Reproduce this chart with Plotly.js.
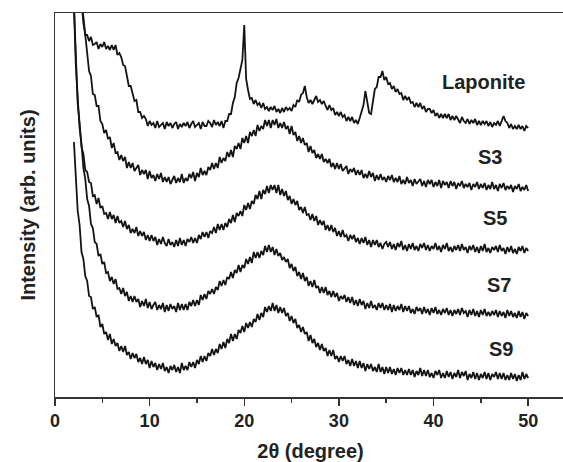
<!DOCTYPE html>
<html>
<head>
<meta charset="utf-8">
<script src="https://cdn.plot.ly/plotly-3.0.1.min.js"></script>
<style>
html,body{margin:0;padding:0;overflow:hidden;background:#fff;}
#chart{width:566px;height:462px;}
</style>
</head>
<body>
<div id="chart"></div>
<script>
// 2-theta sampling: every series is read every 0.2 degree from its start angle
const stepDeg = 0.2;
const startLaponite = 2.8, startS3 = 2.8, startS5 = 2.0, startS7 = 2.0, startS9 = 2.0;
const seriesNames = ["Laponite", "S3", "S5", "S7", "S9"];
const xTicks = [0, 10, 20, 30, 40, 50];

// intensities (arb. units, vertically offset as in the figure); one row per degree
const laponite = [
396,
374,362,362,356,360, 352,353,355,348,353, 350,355,348,351,347, 352,347,352,342,344,
340,332,331,321,311, 311,303,296,297,285, 285,279,281,278,271, 276,272,274,269,276,
270,272,274,268,275, 271,274,269,273,275, 268,273,270,274,271, 275,269,273,276,270,
272,274,268,275,271, 271,276,274,270,277, 272,275,271,276,269, 276,276,283,283,294,
300,314,319,329,337, 372,318,307,298,299, 293,297,292,294,289, 294,288,290,286,290,
287,291,285,288,284, 289,285,290,287,289, 286,292,290,297,295, 302,304,311,300,294,
297,293,298,301,295, 297,293,296,291,287, 292,287,289,282,285, 281,285,280,282,276,
280,276,280,274,277, 273,279,285,292,306, 293,284,283,296,308, 310,320,320,326,317,
320,313,314,308,311, 305,308,303,304,297, 301,297,300,294,295, 290,294,290,294,288,
291,285,288,288,284, 287,281,284,279,283, 279,283,279,283,277, 281,277,281,277,274,
280,276,274,278,273, 277,274,278,272,276, 272,276,273,276,271, 275,270,274,272,276,
271,276,281,276,274, 269,273,268,271,268, 272,268,271,266,271,
269];

const s3 = [
398,
380,357,346,326,321, 303,302,291,291,276, 273,264,267,258,260, 249,254,244,245,237,
242,236,240,229,235, 229,234,226,229,232, 222,227,223,227,218, 226,219,222,216,223,
218,224,215,220,215, 220,213,218,221,214, 219,215,223,214,219, 216,223,219,225,216,
224,220,229,222,226, 222,230,227,234,228, 234,229,240,234,239, 236,245,240,247,240,
251,248,254,248,259, 254,261,254,265,261, 267,261,272,266,271, 268,277,271,277,269,
277,272,278,269,274, 269,275,268,271,263, 271,262,265,256,261, 254,259,252,254,245,
251,244,247,239,243, 238,243,235,238,234, 238,230,234,228,234, 228,233,226,229,231,
223,228,225,229,222, 227,222,227,219,223, 219,226,220,224,216, 222,217,223,217,220,
215,221,217,222,215, 219,215,221,213,217, 213,220,214,217,211, 218,213,216,218,211,
216,210,217,213,217, 210,215,211,217,209, 216,212,215,209,216, 211,215,208,214,211,
216,209,213,210,214, 207,213,210,215,208, 213,209,214,207,212, 208,215,208,212,206,
213,209,214,207,211, 208,212,205,211,208, 213,206,210,207,212,
206];

const s5 = [
392,336,293,274,250, 243,227,225,215,214, 201,202,193,199,189, 191,183,184,178,185,
178,182,174,181,174, 176,170,176,168,172, 164,168,164,170,161, 166,161,165,157,162,
156,162,156,160,152, 158,153,160,154,151, 158,152,155,150,157, 151,159,152,157,151,
158,155,160,154,159, 154,162,158,165,160, 165,159,166,164,170, 164,173,167,173,167,
174,170,178,174,182, 175,184,181,186,181, 192,187,194,188,196, 193,202,198,206,198,
207,203,211,204,212, 207,212,204,212,202, 208,201,206,197,201, 193,198,192,196,187,
190,184,190,182,183, 177,183,176,181,172, 177,172,176,167,172, 166,172,165,169,161,
166,160,167,160,162, 156,162,158,162,155, 159,153,159,154,160, 152,157,150,157,152,
157,150,154,148,153, 155,150,155,148,153, 147,154,150,156,147, 152,146,153,148,154,
147,151,146,153,149, 154,147,152,146,151, 148,154,147,151,145, 152,148,154,146,150,
145,151,147,152,146, 153,147,150,144,151, 147,152,145,150,144, 151,146,153,145,149,
144,150,147,151,145, 152,146,149,143,150, 145,151,144,148,143, 150,146,151,144,149,
146];

const s7 = [
392,332,299,269,253, 229,218,198,191,173, 169,155,153,141,143, 133,135,124,125,116,
120,113,118,108,109, 103,109,101,105,96, 101,95,101,95,98, 90,96,91,98,89,
95,88,92,95,87, 92,88,94,85,92, 86,93,88,91,85, 94,87,93,87,93,
87,95,91,97,91, 97,92,102,97,103, 98,106,103,108,103, 110,107,116,111,117,
112,120,118,125,119, 127,124,132,125,132, 129,138,133,140,134, 145,139,145,139,146,
142,151,145,152,145, 150,142,148,141,144, 137,140,135,138,129, 133,126,130,121,125,
118,124,116,120,111, 116,110,117,109,111, 104,110,104,110,102, 106,100,106,100,104,
96,101,98,102,95, 100,94,100,92,97, 91,98,92,96,88, 94,89,96,89,92,
87,94,89,94,87, 92,87,93,85,92, 86,91,87,93,85, 91,86,91,84,88,
83,90,86,89,83, 90,84,88,82,89, 84,90,83,87,82, 88,84,89,82,87,
81,87,83,88,82, 89,84,86,80,87, 82,88,81,86,80, 87,82,88,81,85,
81,86,82,87,80, 86,81,85,79,87, 81,86,80,84,79, 86,80,85,78,84,
81];

const s9 = [
255,215,186,172,145, 138,121,116,101,100, 88,90,80,82,70, 73,63,65,57,63,
53,58,51,54,46, 51,45,51,42,45, 38,44,39,43,35, 39,33,40,33,37,
29,36,30,34,27, 33,28,34,26,30, 24,31,27,32,25, 30,24,34,27,31,
27,35,30,35,29, 37,33,41,35,41, 36,44,41,48,42, 48,44,53,48,55,
49,58,54,63,56, 63,58,67,64,71, 65,74,69,75,70, 78,75,83,77,84,
80,90,85,91,86, 94,86,92,84,90, 84,89,81,84,76, 81,74,78,69,72,
65,70,63,65,56, 62,54,58,50,54, 47,53,46,49,41, 47,41,47,38,41,
35,41,36,41,33, 37,31,38,31,36, 29,36,29,34,26, 33,28,33,26,30,
25,33,25,30,23, 30,24,30,23,28, 22,29,24,29,22, 27,22,28,22,27,
20,26,22,29,21, 27,21,27,20,24, 19,26,22,27,19, 24,19,26,20,25,
18,24,20,27,19, 25,21,26,17,23, 19,25,18,24,17, 23,19,25,18,24,
17,23,20,25,18, 24,18,24,17,22, 17,24,18,23,16, 22,17,25,18,23,
19];

// label anchor positions (data coordinates)
const labelX = [49.9, 47.4, 48.0, 48.4, 48.6];
const labelY = [315, 240, 179, 112, 48];

function grid(start, n) {
  const xs = [];
  for (let i = 0; i < n; i++) xs.push(+(start + i * stepDeg).toFixed(2));
  return xs;
}

const seriesData = [
  [startLaponite, laponite],
  [startS3, s3],
  [startS5, s5],
  [startS7, s7],
  [startS9, s9]
];

const traces = seriesData.map((d, k) => ({
  type: 'scatter',
  mode: 'lines',
  name: seriesNames[k],
  x: grid(d[0], d[1].length),
  y: d[1],
  line: {color: '#141414', width: 1.8},
  hoverinfo: 'skip'
}));

const fontFam = '"Liberation Sans", Arial, Helvetica, sans-serif';

const annotations = seriesNames.map((name, k) => ({
  x: labelX[k], y: labelY[k], xref: 'x', yref: 'y',
  text: name, showarrow: false, xanchor: 'right', yanchor: 'middle',
  font: {family: fontFam, size: 20, color: '#222', weight: 700}
}));

const layout = {
  width: 566, height: 462,
  margin: {l: 55, r: 0, t: 13, b: 65},
  paper_bgcolor: '#fff', plot_bgcolor: '#fff',
  showlegend: false,
  xaxis: {
    range: [0, 54], tickvals: xTicks, ticktext: xTicks.map(String),
    ticks: 'outside', ticklen: 7, tickwidth: 1.5, tickcolor: '#333',
    minor: {dtick: 5, tick0: 0, ticks: 'outside', ticklen: 4, tickwidth: 1.5, tickcolor: '#333'},
    showline: true, linecolor: '#333', linewidth: 1.5, mirror: true,
    showgrid: false, zeroline: false,
    tickfont: {family: fontFam, size: 18, color: '#222', weight: 700},
    title: {text: '2θ (degree)', standoff: 14, font: {family: fontFam, size: 20, color: '#222', weight: 700}}
  },
  yaxis: {
    range: [0, 384], showticklabels: false, ticks: '',
    showline: true, linecolor: '#333', linewidth: 1.5, mirror: true,
    showgrid: false, zeroline: false,
    title: {text: 'Intensity (arb. units)', standoff: 12, font: {family: fontFam, size: 20, color: '#222', weight: 700}}
  },
  annotations: annotations
};

Plotly.newPlot('chart', traces, layout, {displayModeBar: false, staticPlot: true});
</script>
</body>
</html>
